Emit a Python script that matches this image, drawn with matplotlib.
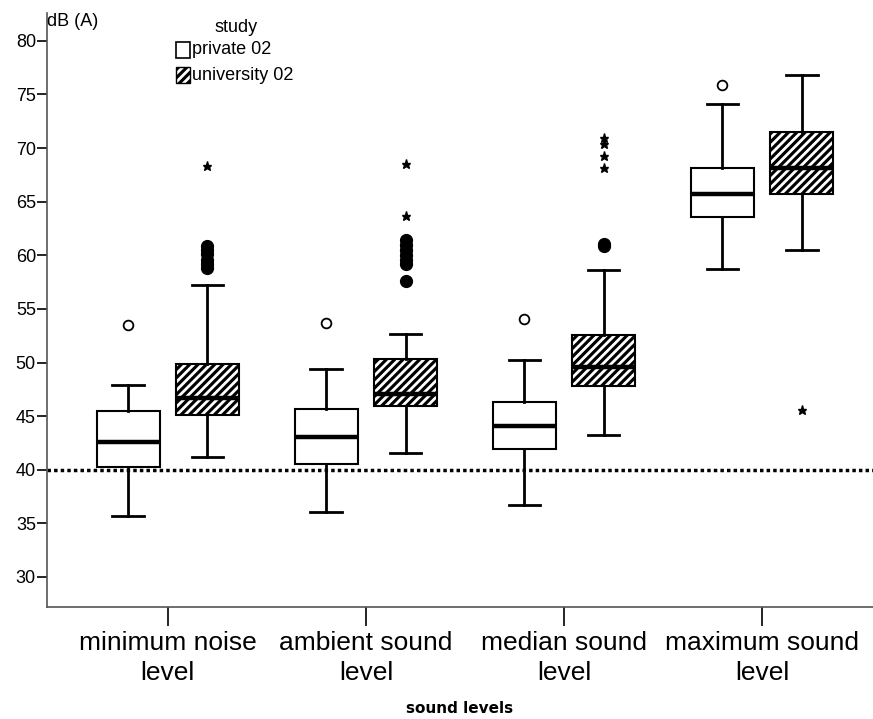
import matplotlib
matplotlib.use('Agg')
import matplotlib.pyplot as plt
from matplotlib.patches import PathPatch, Rectangle

plt.rcParams['font.family'] = ['Liberation Sans Narrow', 'Liberation Sans', 'DejaVu Sans']
plt.rcParams['hatch.linewidth'] = 2.0

categories = ['minimum noise\nlevel', 'ambient sound\nlevel',
              'median sound\nlevel', 'maximum sound\nlevel']
groups = ['private 02', 'university 02']

# five-number summaries per category (dB(A))
private_lo = [35.7, 36.1, 36.7, 58.7]
private_q1 = [40.3, 40.5, 41.9, 63.6]
private_med = [42.6, 43.1, 44.1, 65.7]
private_q3 = [45.5, 45.7, 46.3, 68.1]
private_hi = [47.9, 49.4, 50.2, 74.1]
private_outliers = [[53.5], [53.7], [54.1], [75.9]]

univ_lo = [41.2, 41.6, 43.2, 60.5]
univ_q1 = [45.1, 45.9, 47.8, 65.7]
univ_med = [46.7, 47.1, 49.6, 68.1]
univ_q3 = [49.9, 50.3, 52.6, 71.5]
univ_hi = [57.2, 52.7, 58.6, 76.8]
univ_outliers = [[58.8, 59.2, 59.6, 60.1, 60.5, 60.9],
                 [57.6, 59.2, 59.6, 60.0, 60.5, 61.0, 61.4],
                 [60.9, 61.1],
                 []]
univ_extremes = [[68.3], [63.7, 68.5], [68.1, 69.3, 70.4, 70.9], [45.6]]

reference_level = 40

offset = 0.2
box_w = 0.32
cap_w = 0.16
HATCH = '////'


def make_stats(lo, q1, med, q3, hi):
    return [dict(whislo=a, q1=b, med=c, q3=d, whishi=e, fliers=[])
            for a, b, c, d, e in zip(lo, q1, med, q3, hi)]


W, H = 873, 719
fig = plt.figure(figsize=(W / 100, H / 100), dpi=100)
ax = fig.add_axes([47 / W, 112 / H, 1 - 47 / W, 594 / H])

x = list(range(len(categories)))
pos_p = [i - offset for i in x]
pos_u = [i + offset for i in x]

common = dict(widths=box_w, capwidths=cap_w, patch_artist=True, showfliers=False,
              whiskerprops=dict(color='black', lw=2.0),
              capprops=dict(color='black', lw=2.0),
              medianprops=dict(color='black', lw=3.2))

bp = ax.bxp(make_stats(private_lo, private_q1, private_med, private_q3, private_hi),
            positions=pos_p,
            boxprops=dict(facecolor='white', edgecolor='black', lw=1.5), **common)
bu = ax.bxp(make_stats(univ_lo, univ_q1, univ_med, univ_q3, univ_hi),
            positions=pos_u,
            boxprops=dict(facecolor='black', edgecolor='white', lw=0, hatch=HATCH), **common)
# hatch takes the edge colour, so the black outline goes on as a separate patch
for box in bu['boxes']:
    ax.add_patch(PathPatch(box.get_path(), fill=False, edgecolor='black', lw=1.5,
                           zorder=box.get_zorder() + 0.05))

# outliers (circles) and extremes (stars)
for i in x:
    ax.plot([pos_p[i]] * len(private_outliers[i]), private_outliers[i], 'o',
            mfc='white', mec='black', ms=7, mew=1.3)
    ax.plot([pos_u[i]] * len(univ_outliers[i]), univ_outliers[i], 'o',
            mfc='black', mec='black', ms=8.5)
    ax.plot([pos_u[i]] * len(univ_extremes[i]), univ_extremes[i], '*',
            color='black', ms=6.5)

ax.axhline(reference_level, color='black', lw=2.5, ls=(0, (1, 0.9)), zorder=1)

ax.set_xlim(-0.61, 3.56)
ax.set_ylim(27.2, 82.6)
ax.set_yticks([30, 35, 40, 45, 50, 55, 60, 65, 70, 75, 80])
ax.set_xticks(x)
ax.set_xticklabels(categories, fontsize=19, linespacing=1.35)
ax.tick_params(axis='x', length=14, width=1.2, pad=3)
ax.tick_params(axis='y', length=7, width=1.2, labelsize=13, pad=1)
for s in ['top', 'right']:
    ax.spines[s].set_visible(False)
for s in ['left', 'bottom']:
    ax.spines[s].set_color('#555555')
    ax.spines[s].set_linewidth(1.2)

ax.set_xlabel('sound levels', fontsize=11, fontweight='bold', family='DejaVu Sans',
              labelpad=11)
ax.text(0.0, 1.0, 'dB (A)', transform=ax.transAxes, fontsize=13,
        ha='left', va='top')

# legend block at the top
fig.text(236 / W, 1 - 28 / H, 'study', fontsize=13, ha='center', va='center')
swatches = [dict(facecolor='white', edgecolor='black', lw=1.2),
            dict(facecolor='black', edgecolor='white', hatch=HATCH, lw=0)]
for k, (label, style) in enumerate(zip(groups, swatches)):
    yc = 50 + 25 * k
    fig.patches.append(Rectangle((176 / W, 1 - (yc + 8) / H), 14 / W, 16 / H,
                                 transform=fig.transFigure, figure=fig, **style))
    if k == 1:
        fig.patches.append(Rectangle((176 / W, 1 - (yc + 8) / H), 14 / W, 16 / H,
                                     transform=fig.transFigure, figure=fig,
                                     fill=False, edgecolor='black', lw=1.0))
    fig.text(192 / W, 1 - yc / H, label, fontsize=13, ha='left', va='center')

fig.savefig('out.png', dpi=100)
